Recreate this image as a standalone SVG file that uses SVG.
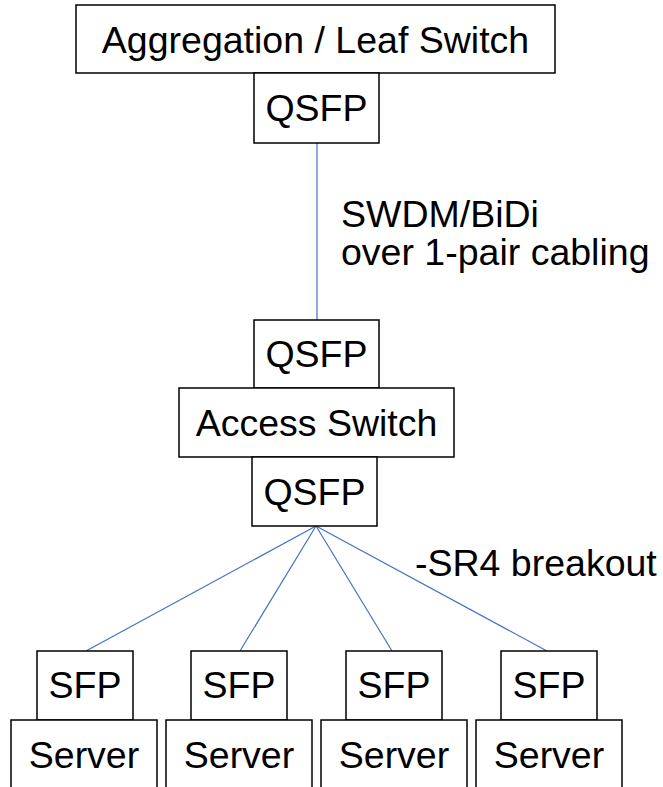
<svg xmlns="http://www.w3.org/2000/svg" width="663" height="787" viewBox="0 0 663 787">
<style>
.box{fill:#ffffff;stroke:#000000;stroke-width:1.5}
.t{font-family:"Liberation Sans",Arial,sans-serif;font-size:37.5px;fill:#000000}
.c{text-anchor:middle}
.link{stroke:#4472C4;stroke-width:1.2;fill:none}
</style>
<rect width="663" height="787" fill="#ffffff"/>
<g id="connectors">
<line class="link" x1="317" y1="143" x2="317" y2="320"/>
<line class="link" x1="316" y1="526" x2="86" y2="651"/>
<line class="link" x1="316" y1="526" x2="240" y2="651"/>
<line class="link" x1="316" y1="526" x2="392" y2="651"/>
<line class="link" x1="316" y1="526" x2="547" y2="651"/>
</g>
<g id="leaf-switch">
<rect class="box" x="76" y="5" width="479" height="68"/>
<text class="t c" x="315.5" y="53">Aggregation / Leaf Switch</text>
</g>
<g id="leaf-qsfp">
<rect class="box" x="254" y="73" width="125" height="70"/>
<text class="t c" x="316.5" y="121">QSFP</text>
</g>
<g id="access-qsfp-up">
<rect class="box" x="254" y="320" width="125" height="68"/>
<text class="t c" x="316.5" y="367">QSFP</text>
</g>
<g id="access-switch">
<rect class="box" x="179" y="388" width="275" height="69"/>
<text class="t c" x="316.5" y="436">Access Switch</text>
</g>
<g id="access-qsfp-down">
<rect class="box" x="252" y="457" width="125" height="69"/>
<text class="t c" x="314.5" y="505">QSFP</text>
</g>
<g id="label-swdm">
<text class="t" x="341" y="227">SWDM/BiDi</text>
<text class="t" x="341" y="265">over 1-pair cabling</text>
</g>
<g id="label-sr4">
<text class="t" x="415" y="576">-SR4 breakout</text>
</g>
<g id="sfp1">
<rect class="box" x="37" y="651" width="96" height="69"/>
<text class="t c" x="85" y="698">SFP</text>
</g>
<g id="sfp2">
<rect class="box" x="191" y="651" width="96" height="69"/>
<text class="t c" x="239" y="698">SFP</text>
</g>
<g id="sfp3">
<rect class="box" x="346" y="651" width="96" height="69"/>
<text class="t c" x="394" y="698">SFP</text>
</g>
<g id="sfp4">
<rect class="box" x="501" y="651" width="96" height="69"/>
<text class="t c" x="549" y="698">SFP</text>
</g>
<g id="server1">
<rect class="box" x="11" y="720" width="146" height="75"/>
<text class="t c" x="84" y="768">Server</text>
</g>
<g id="server2">
<rect class="box" x="166" y="720" width="146" height="75"/>
<text class="t c" x="239" y="768">Server</text>
</g>
<g id="server3">
<rect class="box" x="321" y="720" width="146" height="75"/>
<text class="t c" x="394" y="768">Server</text>
</g>
<g id="server4">
<rect class="box" x="476" y="720" width="146" height="75"/>
<text class="t c" x="549" y="768">Server</text>
</g>
</svg>
